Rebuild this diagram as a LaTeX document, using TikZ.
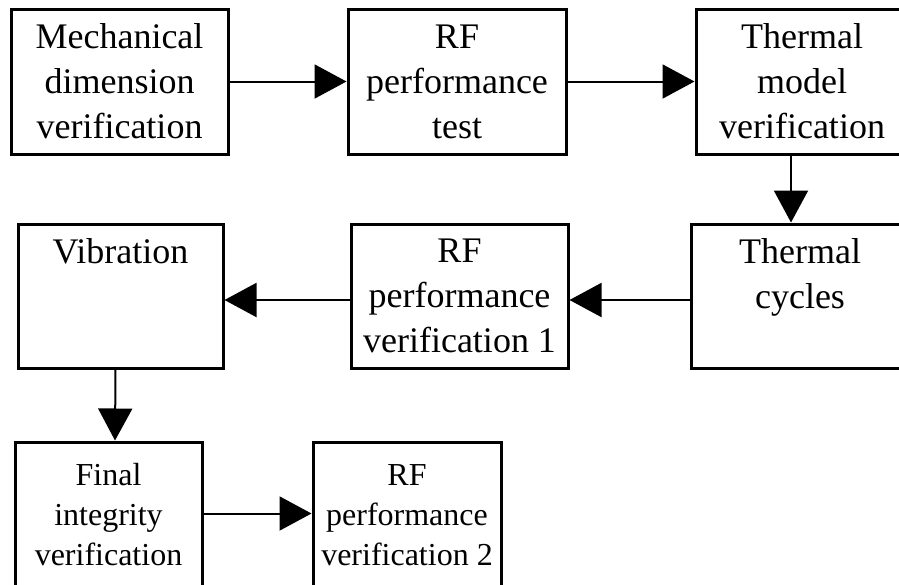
\documentclass[tikz,border=0pt]{standalone}
\usepackage{fontspec}
\setmainfont{Liberation Serif}
\usetikzlibrary{arrows.meta,positioning}
\begin{document}
\begin{tikzpicture}[x=1pt,y=-1pt,blk/.style={draw,line width=3pt,rectangle,align=center,inner sep=0pt,
        minimum height=145pt,font=\fontsize{36}{45}\selectfont},small/.style={font=\fontsize{32}{40}\selectfont,minimum height=146pt},
        arr/.style={line width=2pt,-{Triangle[length=32pt,width=34pt]}}]
   \useasboundingbox (0,0) rectangle (899,584);
   \clip (0,0) rectangle (899,584);
   % first row
   \node[blk,minimum width=217pt] (mdv) at (119.5,81.5) {Mechanical\\dimension\\verification};
   \node[blk,minimum width=218pt] (rft) at (457,81.5) {RF\\performance\\test};
   \node[blk,minimum width=212pt] (tmv) at (802,81.5) {Thermal\\model\\verification};
   % second row
   \node[blk,minimum width=205pt,minimum height=144pt] (vib) at (120.5,296) {Vibration\\~\\~};
   \node[blk,minimum width=217pt,minimum height=144pt] (rf1) at (459.5,296) {RF\\performance\\verification 1};
   \node[blk,minimum width=218pt,minimum height=144pt] (tc) at (800,296) {Thermal\\cycles\\~};
   % third row
   \node[blk,small,minimum width=187pt] (fin) at (108.5,515) {Final\\integrity\\verification};
   \node[blk,small,minimum width=188pt] (rf2) at (407,515) {RF\\performance\\verification 2};
   \draw[arr] (mdv) -- (rft);
   \draw[arr] (rft) -- (tmv);
   \draw[arr] ([xshift=-11pt]tmv.south) -- ([xshift=-9pt]tc.north);
   \draw[arr] ([yshift=-4pt]tc.west) -- ([yshift=-4pt]rf1.east);
   \draw[arr] ([yshift=-4pt]rf1.west) -- ([yshift=-4pt]vib.east);
   \draw[arr] ([xshift=-5pt]vib.south) -- ([xshift=6.5pt]fin.north);
   \draw[arr] ([yshift=1.5pt]fin.east) -- ([yshift=1.5pt]rf2.west);
\end{tikzpicture}
\end{document}
